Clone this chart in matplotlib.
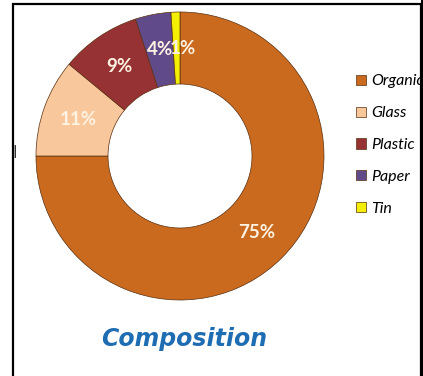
import numpy as np
import matplotlib
matplotlib.use('Agg')
import matplotlib.pyplot as plt
from matplotlib.patches import Rectangle

# ============================================================
# data
# ============================================================
categories = ['Organic', 'Glass', 'Plastic', 'Paper', 'Tin']
shares = [75, 11, 9, 4, 1]
colors = ['#C96A1F', '#F8C89C', '#963234', '#604A8A', '#F2F000']
title = 'Composition'

# ============================================================
# figure: one axes in pixel units (y up)
# ============================================================
W, H = 423, 376
fig = plt.figure(figsize=(W / 100, H / 100), dpi=100)
ax = fig.add_axes([0, 0, 1, 1])

wedges, texts, autotexts = ax.pie(
    shares, colors=colors, startangle=90, counterclock=False,
    radius=144, center=(180, H - 156), autopct='%d%%', pctdistance=0.75,
    wedgeprops=dict(width=72, edgecolor='#5a3010', linewidth=0.5),
    textprops=dict(color='#FFF2E2', fontsize=13.5, fontweight='bold', family='Lato'))
# the 1% label sits a bit to the right in the original
autotexts[-1].set_x(autotexts[-1].get_position()[0] + 6)

ax.set_xlim(0, W)
ax.set_ylim(0, H)
ax.set_aspect('equal')
ax.axis('off')

ax.text(184, H - 339, title, ha='center', va='center', fontsize=17,
        fontweight='bold', fontstyle='italic', color='#1E6DB2', family='DejaVu Sans')

# little clipped label remnant at the left
ax.text(15, H - 151, '|', ha='center', va='center', fontsize=9,
        fontweight='bold', color='#333333')

leg = ax.legend(wedges, categories, loc='upper left',
                bbox_to_anchor=(350 / W, 1 - 68 / H), frameon=False,
                handlelength=0.6, handleheight=0.6, handletextpad=0.3,
                labelspacing=1.12, borderaxespad=0,
                prop=dict(family='Lato', style='italic', size=11.5))

# black frame around the picture (bottom edge is cut off)
ax.add_patch(Rectangle((12.5, -10), 408.5, H - 3.5 + 10, fill=False,
                       edgecolor='black', linewidth=1.6, zorder=10, clip_on=False))
ax.add_patch(Rectangle((420.5, 0), 5, H, facecolor='black', edgecolor='none', zorder=10))

fig.savefig('out.png', dpi=100)
